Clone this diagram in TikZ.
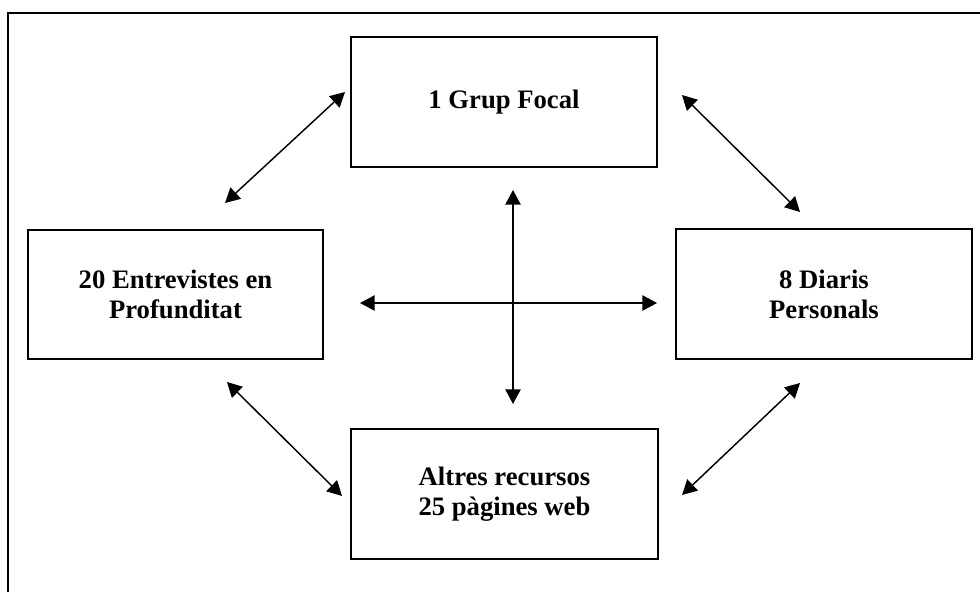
\documentclass[tikz,border=0pt]{standalone}
\usepackage{fontspec}
\setmainfont{Liberation Serif}
\usetikzlibrary{arrows.meta}
\begin{document}
\begin{tikzpicture}[x=0.75pt,y=-0.75pt,
  box/.style={draw,line width=1.5pt,minimum width=#1,inner sep=0pt,align=center,
    font=\fontsize{20}{22.5}\selectfont\bfseries},
  link/.style={line width=1.1pt,{Triangle[length=11pt,width=11.5pt]}-{Triangle[length=11pt,width=11.5pt]}},
  frame/.style={line width=1.6pt}]
\useasboundingbox (0,0) rectangle (980,592);

% partial outer frame (top and left edges)
\draw[frame] (8,592) -- (8,13) -- (980,13);

% the four boxes
\node[box=229.5pt,minimum height=97.5pt] (grup) at (504,102) {1 Grup Focal};
\node[box=222pt,minimum height=97.5pt] (diaris) at (824,294) {8 Diaris\\Personals};
\node[box=221.25pt,minimum height=96.75pt] (entrev) at (175.5,294.5) {20 Entrevistes en\\Profunditat};
\node[box=230.25pt,minimum height=97.5pt] (altres) at (504.5,494) {Altres recursos\\25 pàgines web};

% arrow end points
\coordinate (tl1) at (345,92);   \coordinate (tl2) at (225,203);
\coordinate (tr1) at (682,95);   \coordinate (tr2) at (800,212);
\coordinate (bl1) at (227,382);  \coordinate (bl2) at (342,496);
\coordinate (br1) at (800,383);  \coordinate (br2) at (682,495);
\coordinate (vt) at (513,190);   \coordinate (vb) at (513,404);
\coordinate (hl) at (360,303);   \coordinate (hr) at (657,303);

% connectors
\draw[link] (tl1) -- (tl2);
\draw[link] (tr1) -- (tr2);
\draw[link] (bl1) -- (bl2);
\draw[link] (br1) -- (br2);
\draw[link] (vt) -- (vb);
\draw[link] (hl) -- (hr);
\end{tikzpicture}
\end{document}
